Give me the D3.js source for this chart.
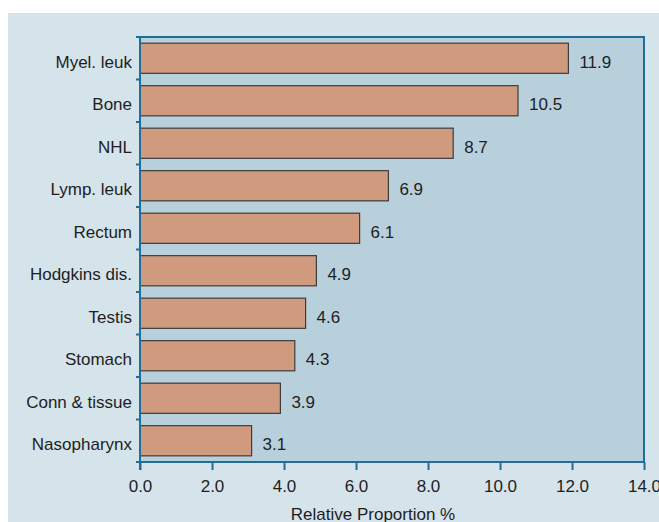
<!DOCTYPE html>
<html>
<head>
<meta charset="utf-8">
<script src="https://cdn.jsdelivr.net/npm/d3@7"></script>
<style>
  html, body { margin: 0; padding: 0; background: #ffffff; }
  svg { display: block; }
  text { font-family: "Liberation Sans", Arial, Helvetica, sans-serif; fill: #1e1e1e; }
</style>
</head>
<body>
<svg id="chart" width="659" height="522"></svg>
<script>
// Relative proportion of cancer sites (%)
const sites = ["Myel. leuk", "Bone", "NHL", "Lymp. leuk", "Rectum",
               "Hodgkins dis.", "Testis", "Stomach", "Conn & tissue", "Nasopharynx"];
const proportions = [11.9, 10.5, 8.7, 6.9, 6.1, 4.9, 4.6, 4.3, 3.9, 3.1];
const xTicks = [0, 2, 4, 6, 8, 10, 12, 14];
const xTitle = "Relative Proportion %";

const svg = d3.select("#chart");
const W = 659, H = 522;
const plot = { left: 140, right: 644, top: 37, bottom: 462 };
const fontSize = 17;
const axisBlue = "#1f6e99";

// outer panel
svg.append("rect")
  .attr("x", 8).attr("y", 13)
  .attr("width", W - 8).attr("height", H - 13)
  .attr("fill", "#d5e3eb");

const x = d3.scaleLinear().domain([0, 14]).range([plot.left, plot.right]);
const y = d3.scaleBand().domain(sites)
  .range([plot.top, plot.bottom])
  .paddingInner(0.29).paddingOuter(0.145);

// plot area
svg.append("rect")
  .attr("x", plot.left).attr("y", plot.top)
  .attr("width", plot.right - plot.left).attr("height", plot.bottom - plot.top)
  .attr("fill", "#b8d0dc");

// bars
svg.append("g").selectAll("rect")
  .data(sites)
  .join("rect")
  .attr("x", x(0))
  .attr("y", d => y(d))
  .attr("width", (d, i) => x(proportions[i]) - x(0))
  .attr("height", y.bandwidth())
  .attr("fill", "#d09a7f")
  .attr("stroke", "#3c3c3c")
  .attr("stroke-width", 1.2);

// value labels
svg.append("g").selectAll("text")
  .data(sites)
  .join("text")
  .attr("x", (d, i) => x(proportions[i]) + 11)
  .attr("y", d => y(d) + y.bandwidth() / 2 + 9.5)
  .attr("font-size", fontSize)
  .text((d, i) => proportions[i].toFixed(1));

// category labels
svg.append("g").selectAll("text")
  .data(sites)
  .join("text")
  .attr("x", plot.left - 8)
  .attr("y", d => y(d) + y.bandwidth() / 2 + 9.5)
  .attr("text-anchor", "end")
  .attr("font-size", fontSize)
  .text(d => d);

// left axis with ticks at band boundaries
const step = y.step();
const bounds = d3.range(sites.length + 1).map(i => plot.top + i * step);
const left = svg.append("g").attr("stroke", axisBlue);
left.append("line")
  .attr("x1", plot.left).attr("x2", plot.left)
  .attr("y1", plot.top).attr("y2", plot.bottom + 8)
  .attr("stroke-width", 2);
left.selectAll("line.tick")
  .data(bounds)
  .join("line").attr("class", "tick")
  .attr("x1", plot.left - 4).attr("x2", plot.left)
  .attr("y1", d => d).attr("y2", d => d)
  .attr("stroke-width", 2);

// top and right frame
svg.append("line")
  .attr("x1", plot.left - 4).attr("x2", plot.right + 1)
  .attr("y1", plot.top).attr("y2", plot.top)
  .attr("stroke", axisBlue).attr("stroke-width", 2);
svg.append("line")
  .attr("x1", plot.right).attr("x2", plot.right)
  .attr("y1", plot.top).attr("y2", plot.bottom)
  .attr("stroke", axisBlue).attr("stroke-width", 2);

// bottom axis
const xAxis = d3.axisBottom(x)
  .tickValues(xTicks)
  .tickSize(8)
  .tickPadding(10)
  .tickFormat(d3.format(".1f"));
const gx = svg.append("g")
  .attr("transform", `translate(0,${plot.bottom})`)
  .call(xAxis);
gx.select(".domain")
  .attr("d", `M${plot.left - 4},0H${plot.right + 1}`)
  .attr("stroke", axisBlue).attr("stroke-width", 2);
gx.selectAll(".tick line").attr("stroke", axisBlue).attr("stroke-width", 2);
gx.selectAll(".tick text")
  .attr("font-size", fontSize)
  .attr("font-family", "'Liberation Sans', Arial, sans-serif")
  .attr("fill", "#1e1e1e")
  .attr("dy", null)
  .attr("y", 30);

// axis title
svg.append("text")
  .attr("x", 373).attr("y", 520)
  .attr("text-anchor", "middle")
  .attr("font-size", fontSize)
  .text(xTitle);
</script>
</body>
</html>
